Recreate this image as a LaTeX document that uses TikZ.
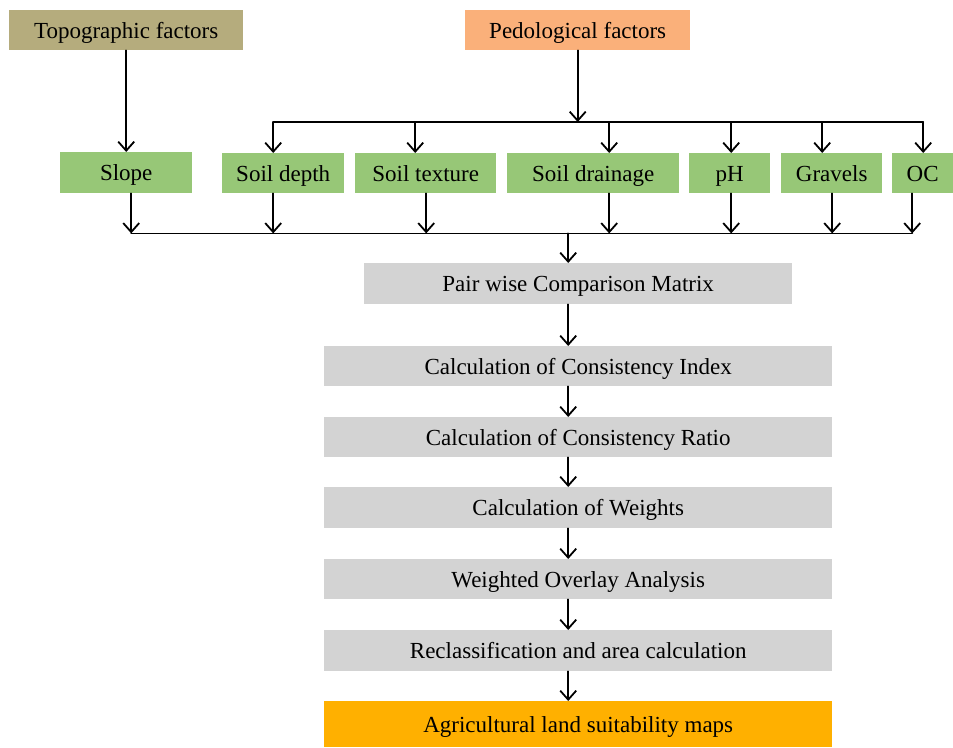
\documentclass[tikz,border=0pt]{standalone}
\usepackage{fontspec}
\setmainfont{Liberation Serif}
\usetikzlibrary{arrows.meta}

\definecolor{topocol}{RGB}{181,172,125}
\definecolor{pedocol}{RGB}{250,176,122}
\definecolor{leafcol}{RGB}{151,199,119}
\definecolor{stepcol}{RGB}{211,211,211}
\definecolor{mapcol}{RGB}{255,176,0}

\tikzset{
  box/.style={inner sep=0pt, anchor=north west, text height=18pt, text depth=2pt,
    font=\fontsize{23}{26}\selectfont},
  factor/.style={box, minimum height=40pt},
  leaf/.style={box, fill=leafcol, minimum height=40pt},
  stepbox/.style={box, fill=stepcol, minimum width=508pt, minimum height=40pt},
  flow/.style={->, line width=1.8pt},
  bus/.style={line width=1.8pt}
}

\begin{document}
\begin{tikzpicture}[x=1pt, y=-1pt, line cap=round, line join=round,
    >={Straight Barb[length=9pt,width=16pt]}]
  \useasboundingbox (0,0) rectangle (953,747);

  % Factor groups
  \node[factor, fill=topocol, minimum width=234pt] (topo) at (9,10) {Topographic factors};
  \node[factor, fill=pedocol, minimum width=225pt] (pedo) at (465,10) {Pedological factors};

  % Individual factors
  \node[leaf, minimum width=132pt, minimum height=41pt] (slope) at (60,152) {Slope};
  \node[leaf, minimum width=122pt] (depth)   at (222,153) {Soil depth};
  \node[leaf, minimum width=141pt] (texture) at (355,153) {Soil texture};
  \node[leaf, minimum width=172pt] (drain)   at (507,153) {Soil drainage};
  \node[leaf, minimum width=81pt]  (ph)      at (689,153) {pH};
  \node[leaf, minimum width=101pt] (grav)    at (781,153) {Gravels};
  \node[leaf, minimum width=61pt]  (oc)      at (892,153) {OC};

  % AHP steps
  \node[stepbox, minimum width=428pt, minimum height=41pt] (pair) at (364,263) {Pair wise Comparison Matrix};
  \node[stepbox] (ci)   at (324,346) {Calculation of Consistency Index};
  \node[stepbox] (cr)   at (324,417) {Calculation of Consistency Ratio};
  \node[stepbox, minimum height=41pt] (wts)  at (324,487) {Calculation of Weights};
  \node[stepbox] (wov)  at (324,559) {Weighted Overlay Analysis};
  \node[stepbox, minimum height=41pt] (recl) at (324,630) {Reclassification and area calculation};
  \node[stepbox, fill=mapcol, minimum height=46pt] (maps) at (324,701) {Agricultural land suitability maps};

  % Topographic branch
  \draw[flow] (topo) -- (slope);

  % Pedological branch: bus and drops
  \foreach \n/\dx in {depth/-10, texture/-10.5, drain/16, ph/1.5, grav/-9.5, oc/0.5}
    \coordinate (t\n) at ([xshift=\dx pt, yshift=31pt]\n.north);
  \draw[bus] (tdepth) -- (toc);
  \draw[flow] (pedo) -- (pedo.south |- tdepth);
  \foreach \n/\dx in {depth/-10, texture/-10.5, drain/16, ph/1.5, grav/-9.5, oc/0.5}
    \draw[flow] (t\n) -- ([xshift=\dx pt]\n.north);

  % Collecting bus below the factors
  \foreach \n/\dx in {slope/5, depth/-10, texture/0.5, drain/16, ph/1.5, grav/0.5, oc/-10.5}
    \draw[flow] ([xshift=\dx pt]\n.south) -- ([xshift=\dx pt, yshift=-40pt]\n.south) coordinate (b\n);
  \draw[bus] (bslope) -- (boc);
  \coordinate (merge) at ([xshift=-10pt]pair.north |- bslope);
  \draw[flow] (merge) -- ([xshift=-10pt]pair.north);

  % Step chain
  \foreach \a/\b in {pair/ci, ci/cr, cr/wts, wts/wov, wov/recl, recl/maps}
    \draw[flow] ([xshift=-10pt]\a.south) -- ([xshift=-10pt]\b.north);
\end{tikzpicture}
\end{document}
